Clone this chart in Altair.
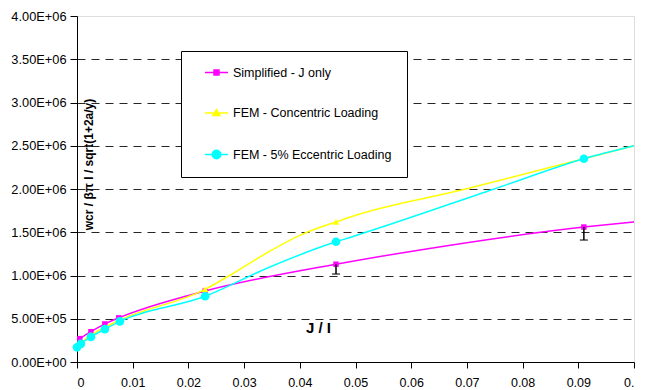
import altair as alt
import pandas as pd

series_names = ["Simplified - J only", "FEM - Concentric Loading", "FEM - 5% Eccentric Loading"]
series_colors = ["#FF00FF", "#FFFF00", "#00FFFF"]
marker_shapes = ["square", "triangle-up", "circle"]
marker_sizes = [30, 45, 75]
legend_paths = [
    "M-2,0H2M-0.43,-0.43H0.43V0.43H-0.43Z",
    "M-2,0H2M0,-0.6L0.62,0.45H-0.62Z",
    "M-2,0H2M-0.74,0A0.74,0.74 0 1,0 0.74,0A0.74,0.74 0 1,0 -0.74,0Z",
]

# smoothed curves
simp_line_x = [0.0005, 0.0025, 0.005, 0.0075, 0.023, 0.0465, 0.063, 0.091, 0.1]
simp_line_y = [270000, 350000, 440000, 510000, 820000, 1130000, 1310000, 1560000, 1620000]
conc_line_x = [0.0, 0.0007, 0.0025, 0.005, 0.0075, 0.023, 0.0282, 0.0343, 0.0402, 0.0465, 0.0492, 0.0698, 0.091, 0.1]
conc_line_y = [170000, 220000, 310000, 400000, 480000, 840000, 1030000, 1270000, 1470000, 1620000, 1680000, 2000000, 2350000, 2500000]
ecc_line_x = [0.0, 0.0007, 0.0025, 0.005, 0.0077, 0.023, 0.0343, 0.0465, 0.049, 0.0749, 0.091, 0.1]
ecc_line_y = [170000, 210000, 290000, 380000, 470000, 760000, 1090000, 1390000, 1440000, 2000000, 2350000, 2500000]

# data points with markers
simp_pt_x = [0.0005, 0.0025, 0.005, 0.0075, 0.023, 0.0465, 0.091]
simp_pt_y = [270000, 350000, 440000, 510000, 820000, 1130000, 1560000]
conc_pt_x = [0.0, 0.0007, 0.0025, 0.005, 0.0075, 0.023, 0.0465, 0.091]
conc_pt_y = [170000, 220000, 310000, 400000, 480000, 840000, 1620000, 2350000]
ecc_pt_x = [0.0, 0.0007, 0.0025, 0.005, 0.0077, 0.023, 0.0465, 0.091]
ecc_pt_y = [170000, 210000, 290000, 380000, 470000, 760000, 1390000, 2350000]

# error bars on the simplified series
err_x = [0.0465, 0.091]
err_hi = [1130000, 1560000]
err_lo = [1017000, 1410000]

x_tick_values = [0.0, 0.01, 0.02, 0.03, 0.04, 0.05, 0.06, 0.07, 0.08, 0.09, 0.1]
x_tick_labels = ["0", "0.01", "0.02", "0.03", "0.04", "0.05", "0.06", "0.07", "0.08", "0.09", "0."]
y_tick_values = [0, 500000, 1000000, 1500000, 2000000, 2500000, 3000000, 3500000, 4000000]
y_tick_labels = ["0.00E+00", "5.00E+05", "1.00E+06", "1.50E+06", "2.00E+06",
                 "2.50E+06", "3.00E+06", "3.50E+06", "4.00E+06"]

FONT = "Liberation Sans"

lines = [(simp_line_x, simp_line_y), (conc_line_x, conc_line_y), (ecc_line_x, ecc_line_y)]
pts = [(simp_pt_x, simp_pt_y), (conc_pt_x, conc_pt_y), (ecc_pt_x, ecc_pt_y)]


def js_list(lst):
    return "[" + ",".join("'" + s + "'" for s in lst) + "]"


x_label_expr = js_list(x_tick_labels) + "[round(datum.value*100)]"
y_label_expr = js_list(y_tick_labels) + "[round(datum.value/500000)]"

legend = alt.Legend(
    title=None, orient="none", legendX=104, legendY=35,
    padding=15, fillColor="white", strokeColor="black",
    labelFont=FONT, labelFontSize=12.5, labelColor="black",
    labelExpr="datum.label + '\u00a0\u00a0\u00a0\u00a0\u00a0'",
    symbolSize=132, symbolStrokeWidth=1.5, symbolOffset=14, symbolOpacity=1,
    labelOffset=10, rowPadding=27.5,
)

x_enc = alt.X("x:Q", scale=alt.Scale(domain=[0, 0.1], nice=False),
              axis=alt.Axis(values=x_tick_values, labelExpr=x_label_expr, grid=False,
                            title="J / I", titleX=241, titleY=-35, titleFont=FONT,
                            titleFontSize=15, titleFontWeight="bold", titleColor="black",
                            titleBaseline="middle",
                            labelFont=FONT, labelFontSize=12.5, labelColor="black",
                            labelPadding=8, tickSize=6, tickColor="black",
                            domainColor="black", labelOverlap=False))
y_enc = alt.Y("y:Q", scale=alt.Scale(domain=[0, 4000000], nice=False),
              axis=alt.Axis(values=y_tick_values, labelExpr=y_label_expr,
                            grid=True, gridColor="#000000", gridDash=[8, 6], gridWidth=1,
                            gridOpacity=alt.condition("datum.value >= 4000000", alt.value(0), alt.value(0.85)),
                            title="wcr / βπ I / sqrt(1+2a/y)", titleX=11, titleY=148,
                            titleAngle=270, titleBaseline="middle", titleAlign="center",
                            titleFont=FONT, titleFontSize=12, titleFontWeight="bold",
                            titleColor="black",
                            labelFont=FONT, labelFontSize=12.8, labelColor="black",
                            labelPadding=4, tickSize=7, tickColor="black",
                            domainColor="black", labelOverlap=False))

layers = []
for i, name in enumerate(series_names):
    lx, ly = lines[i]
    px, py = pts[i]
    df_l = pd.DataFrame({"x": lx, "y": ly})
    df_p = pd.DataFrame({"x": px, "y": py})
    layers.append(
        alt.Chart(df_l).mark_line(strokeWidth=1.5, interpolate="monotone",
                                  color=series_colors[i]).encode(x=x_enc, y=y_enc)
    )
    layers.append(
        alt.Chart(df_p).mark_point(shape=marker_shapes[i], filled=True, opacity=1,
                                   size=marker_sizes[i], color=series_colors[i]).encode(
            x="x:Q", y="y:Q",
        )
    )
    if i == 0:
        df_e = pd.DataFrame({"x": err_x, "hi": err_hi, "lo": err_lo})
        layers.append(
            alt.Chart(df_e).mark_rule(color="black", strokeWidth=1.5).encode(
                x="x:Q", y="hi:Q", y2="lo:Q")
        )
        layers.append(
            alt.Chart(df_e).mark_tick(color="black", orient="horizontal", size=8,
                                      thickness=1.5).encode(x="x:Q", y="lo:Q")
        )

# legend helper layer: zero-size points, one per series, carrying fill/stroke/shape scales
df_leg = pd.DataFrame({"series": series_names,
                       "x": [p[0][-1] for p in pts], "y": [p[1][-1] for p in pts]})
layers.append(
    alt.Chart(df_leg).mark_point(size=0, filled=True).encode(
        x="x:Q", y="y:Q",
        fill=alt.Fill("series:N", scale=alt.Scale(domain=series_names, range=series_colors), legend=legend),
        stroke=alt.Stroke("series:N", scale=alt.Scale(domain=series_names, range=series_colors), legend=legend),
        shape=alt.Shape("series:N", scale=alt.Scale(domain=series_names, range=legend_paths), legend=legend),
    )
)

chart = alt.layer(*layers).properties(
    width=557, height=346,
    autosize=alt.AutoSizeParams(type="none"),
    padding={"left": 69, "top": 8, "right": 3, "bottom": 30},
).configure_view(fill="#C0C0C0", stroke=None).configure(background="white")

chart.save("out.html", embed_options={"renderer": "svg", "actions": False})
